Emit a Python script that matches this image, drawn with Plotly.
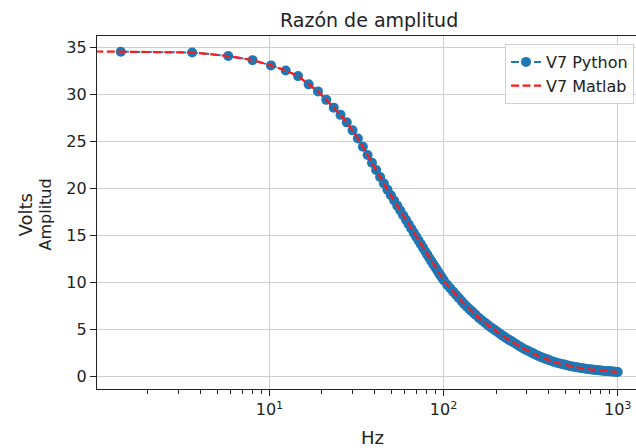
import plotly.graph_objects as go

# Frequency response: amplitude ratio of channel V7, Python vs Matlab
py_hz = [1.4, 3.6, 5.8, 8.0, 10.2, 12.4, 14.6, 16.8, 19.0, 21.2, 23.4, 25.6, 27.8, 30.0,
         32.2, 34.4, 36.6, 38.8, 41.0, 43.2, 45.4, 47.6, 49.8, 52.0, 54.2, 56.4, 58.6, 60.8,
         63.0, 65.2, 67.4, 69.6, 71.8, 74.0, 76.2, 78.4, 80.6, 82.8, 85.0, 87.2, 89.4, 91.6,
         93.8, 96.0, 98.2, 100.4,
         104.8, 109.2, 113.6, 118.0, 122.4, 126.8, 131.2, 135.6, 140.0, 144.4, 148.8, 153.2,
         159.8, 166.4, 173.0, 179.6, 186.2, 192.8, 199.4, 206.0, 212.6, 219.2, 225.8, 232.4,
         239.0, 245.6, 252.2,
         263.2, 274.2, 285.2, 296.2, 307.2, 318.2, 329.2, 340.2, 351.2, 362.2, 373.2, 384.2,
         395.2, 406.2,
         423.8, 441.4, 459.0, 476.6, 494.2, 511.8, 529.4, 547.0, 564.6, 582.2, 599.8,
         621.8, 643.8, 665.8, 687.8, 709.8, 731.8, 753.8, 775.8, 797.8, 819.8, 841.8, 863.8,
         885.8, 907.8, 929.8, 951.8, 973.8, 1000.2]
py_volts = [34.57, 34.50, 34.12, 33.68, 33.12, 32.58, 31.98, 31.10, 30.35, 29.45, 28.62, 27.85, 27.05, 26.20,
            25.33, 24.45, 23.58, 22.75, 21.98, 21.24, 20.54, 19.89, 19.29, 18.72, 18.18, 17.66, 17.15, 16.67,
            16.20, 15.75, 15.31, 14.88, 14.48, 14.08, 13.69, 13.32, 12.96, 12.60, 12.27, 11.95, 11.64, 11.34,
            11.04, 10.75, 10.47, 10.20,
            9.75, 9.38, 9.02, 8.67, 8.34, 8.02, 7.71, 7.44, 7.20, 6.97, 6.75, 6.53,
            6.22, 5.95, 5.71, 5.47, 5.24, 5.05, 4.86, 4.67, 4.49, 4.32, 4.15, 4.00,
            3.86, 3.73, 3.60,
            3.39, 3.19, 2.99, 2.84, 2.69, 2.55, 2.42, 2.28, 2.16, 2.05, 1.96, 1.88,
            1.79, 1.72,
            1.59, 1.47, 1.39, 1.32, 1.25, 1.18, 1.11, 1.05, 1.00, 0.96, 0.92,
            0.88, 0.83, 0.79, 0.75, 0.72, 0.69, 0.67, 0.65, 0.62, 0.60, 0.58, 0.56,
            0.54, 0.53, 0.51, 0.49, 0.48, 0.46]

matlab_hz = [1.0, 1.4, 3.6, 5.8, 8.0, 10.2, 12.4, 14.6, 16.8, 19.0, 21.2, 23.4, 25.6, 27.8, 30.0,
             33.1, 39.5, 47.2, 57.5, 69.0, 82.8, 102.0, 133.0, 162.0, 185.0, 230.0, 286.0,
             357.0, 445.0, 555.0, 692.0, 863.0, 1000.0]
matlab_volts = [34.60, 34.57, 34.50, 34.12, 33.68, 33.12, 32.58, 31.98, 31.10, 30.35, 29.45, 28.62, 27.85, 27.05, 26.20,
                25.00, 22.50, 20.00, 17.40, 15.00, 12.60, 10.00, 7.58, 6.12, 5.28, 4.05, 2.98,
                2.09, 1.45, 1.02, 0.74, 0.56, 0.46]

x_ticks = [10, 100, 1000]
x_tick_text = ["10<sup>1</sup>", "10<sup>2</sup>", "10<sup>3</sup>"]
x_minor = [m * d for d in (1, 10, 100) for m in range(2, 10)]
y_ticks = [0, 5, 10, 15, 20, 25, 30, 35]

FONT = "DejaVu Sans"
INK = "#222222"
GRID = "#cfcfcf"

fig = go.Figure()
fig.add_trace(go.Scatter(
    x=py_hz, y=py_volts, name="V7 Python", mode="lines+markers",
    line=dict(color="#1f77b4", width=2, dash="8px,3.5px"),
    marker=dict(color="#1f77b4", size=10, line=dict(width=0)),
))
fig.add_trace(go.Scatter(
    x=matlab_hz, y=matlab_volts, name="V7 Matlab", mode="lines",
    line=dict(color="#ff1a1a", width=2.2, dash="8px,3.5px"),
))

W, H = 636, 448
L, R, T, B = 97, 0, 36, 59
pw, ph = W - L - R, H - T - B

def px_x(x):
    return (x - L) / pw

def px_y(y):
    return (H - B - y) / ph

fig.update_layout(
    width=W, height=H,
    margin=dict(l=L, r=R, t=T, b=B),
    paper_bgcolor="white", plot_bgcolor="white",
    font=dict(family=FONT, size=16, color=INK),
    showlegend=True,
    legend=dict(
        x=px_x(634), xanchor="right", y=px_y(44), yanchor="top",
        bgcolor="rgba(255,255,255,0.85)", bordercolor="#d0d0d0", borderwidth=1,
        font=dict(family=FONT, size=16, color=INK),
    ),
    xaxis=dict(
        type="log", range=[0.0097, 3.105],
        showline=True, linecolor=INK, linewidth=1.2, mirror=True,
        ticks="outside", ticklen=6, tickwidth=1.2, tickcolor=INK,
        tickmode="array", tickvals=x_ticks, ticktext=x_tick_text,
        showgrid=True, gridcolor=GRID, gridwidth=1.2, zeroline=False,
        minor=dict(ticks="outside", ticklen=3.5, tickwidth=1, tickcolor=INK,
                   tickmode="array", tickvals=x_minor, showgrid=False),
    ),
    yaxis=dict(
        range=[-1.35, 36.25],
        showline=True, linecolor=INK, linewidth=1.2, mirror=False,
        ticks="outside", ticklen=6, tickwidth=1.2, tickcolor=INK,
        tickmode="array", tickvals=y_ticks,
        showgrid=True, gridcolor=GRID, gridwidth=1.2, zeroline=False,
    ),
    annotations=[
        dict(text="Razón de amplitud", xref="paper", yref="paper",
             x=px_x(368.5), y=px_y(20), xanchor="center", yanchor="middle",
             showarrow=False, font=dict(family=FONT, size=19, color=INK)),
        dict(text="Hz", xref="paper", yref="paper",
             x=px_x(372.5), y=px_y(438), xanchor="center", yanchor="middle",
             showarrow=False, font=dict(family=FONT, size=18, color=INK)),
        dict(text="Volts", xref="paper", yref="paper", textangle=-90,
             x=px_x(25), y=px_y(215.5), xanchor="center", yanchor="middle",
             showarrow=False, font=dict(family=FONT, size=18, color=INK)),
        dict(text="Amplitud", xref="paper", yref="paper", textangle=-90,
             x=px_x(45), y=px_y(214.5), xanchor="center", yanchor="middle",
             showarrow=False, font=dict(family=FONT, size=16, color=INK)),
    ],
)

fig.write_html("out.html")
